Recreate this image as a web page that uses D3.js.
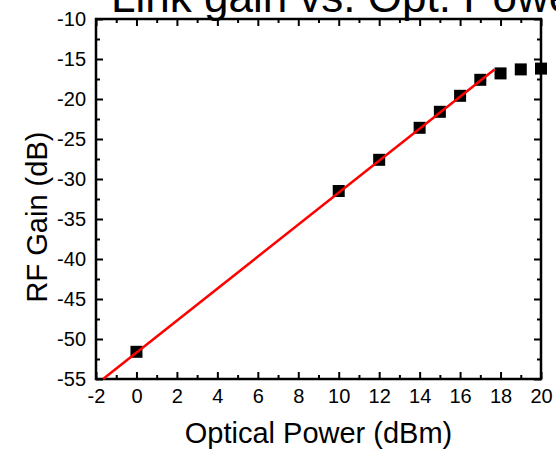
<!doctype html>
<html>

<head>
    <meta charset="utf-8">
    <title>Link gain</title>
    <style>
    body {
        margin: 0;
        background: #fff;
    }

    text {
        font-family: "Liberation Sans", Arial, sans-serif;
    }
    </style>
    <script src="https://cdn.jsdelivr.net/npm/d3@7"></script>
</head>

<body>
    <script>
    // measured points
    var power = [0, 10, 12, 14, 15, 16, 17, 18, 19, 20];
    var gain = [-51.6, -31.5, -27.6, -23.6, -21.6, -19.6, -17.6, -16.8, -16.3, -16.2];

    // linear fit (red)
    var fitPower = [-1.65, 17.7];
    var fitGain = [-55, -16.3];

    var xTicks = [-2, 0, 2, 4, 6, 8, 10, 12, 14, 16, 18, 20];
    var xMinor = [-1, 1, 3, 5, 7, 9, 11, 13, 15, 17, 19];
    var yTicks = [-55, -50, -45, -40, -35, -30, -25, -20, -15, -10];
    var yMinor = [-52.5, -47.5, -42.5, -37.5, -32.5, -27.5, -22.5, -17.5, -12.5];

    var W = 556,
        H = 450,
        m = { top: 19, right: 15, bottom: 71, left: 96 },
        w = W - m.left - m.right,
        h = H - m.top - m.bottom;

    var svg = d3.select("body").append("svg")
        .attr("width", W)
        .attr("height", H);

    var g = svg.append("g")
        .attr("transform", "translate(" + m.left + "," + m.top + ")");

    var x = d3.scaleLinear().domain([-2, 20]).range([0, w]);
    var y = d3.scaleLinear().domain([-55, -10]).range([h, 0]);

    // plain hyphen minus like the original
    var fmt = function(d) { return String(d); };

    function styleAxis(sel) {
        sel.select(".domain").remove();
        sel.selectAll(".tick line").attr("stroke", "#000").attr("stroke-width", 2);
        sel.selectAll("text").attr("font-size", 20).attr("fill", "#000")
            .style("font-family", "'Liberation Sans', Arial, sans-serif");
    }

    // bottom / left with labels, ticks inward
    g.append("g").attr("transform", "translate(0," + h + ")")
        .call(d3.axisBottom(x).tickValues(xTicks).tickSize(-7).tickPadding(10).tickFormat(fmt))
        .call(styleAxis);
    g.append("g")
        .call(d3.axisLeft(y).tickValues(yTicks).tickSize(-7).tickPadding(10).tickFormat(fmt))
        .call(styleAxis);

    // mirrored and minor ticks
    g.append("g").attr("transform", "translate(0," + h + ")")
        .call(d3.axisBottom(x).tickValues(xMinor).tickSize(-4).tickFormat(""))
        .call(styleAxis);
    g.append("g")
        .call(d3.axisTop(x).tickValues(xTicks).tickSize(-7).tickFormat(""))
        .call(styleAxis);
    g.append("g")
        .call(d3.axisTop(x).tickValues(xMinor).tickSize(-4).tickFormat(""))
        .call(styleAxis);
    g.append("g")
        .call(d3.axisLeft(y).tickValues(yMinor).tickSize(-4).tickFormat(""))
        .call(styleAxis);
    g.append("g").attr("transform", "translate(" + w + ",0)")
        .call(d3.axisRight(y).tickValues(yTicks).tickSize(-7).tickFormat(""))
        .call(styleAxis);
    g.append("g").attr("transform", "translate(" + w + ",0)")
        .call(d3.axisRight(y).tickValues(yMinor).tickSize(-4).tickFormat(""))
        .call(styleAxis);

    g.append("rect")
        .attr("width", w)
        .attr("height", h)
        .attr("fill", "none")
        .attr("stroke", "#000")
        .attr("stroke-width", 2.5);

    // squares
    var s = 12;
    g.selectAll("rect.pt")
        .data(power)
        .enter().append("rect")
        .attr("class", "pt")
        .attr("x", function(d) { return x(d) - s / 2; })
        .attr("y", function(d, i) { return y(gain[i]) - s / 2; })
        .attr("width", s)
        .attr("height", s)
        .attr("fill", "#000");

    var line = d3.line()
        .x(function(d) { return x(d); })
        .y(function(d, i) { return y(fitGain[i]); });

    g.append("path")
        .datum(fitPower)
        .attr("d", line)
        .attr("fill", "none")
        .attr("stroke", "#ff0000")
        .attr("stroke-width", 2.5);

    // titles
    svg.append("text")
        .attr("x", 111)
        .attr("y", 12)
        .attr("font-size", 44)
        .text("Link gain vs. Opt. Power");

    svg.append("text")
        .attr("x", m.left + w / 2)
        .attr("y", 443)
        .attr("text-anchor", "middle")
        .attr("font-size", 29)
        .text("Optical Power (dBm)");

    svg.append("text")
        .attr("transform", "translate(47,217)rotate(-90)")
        .attr("text-anchor", "middle")
        .attr("font-size", 29)
        .text("RF Gain (dB)");
    </script>
</body>

</html>
